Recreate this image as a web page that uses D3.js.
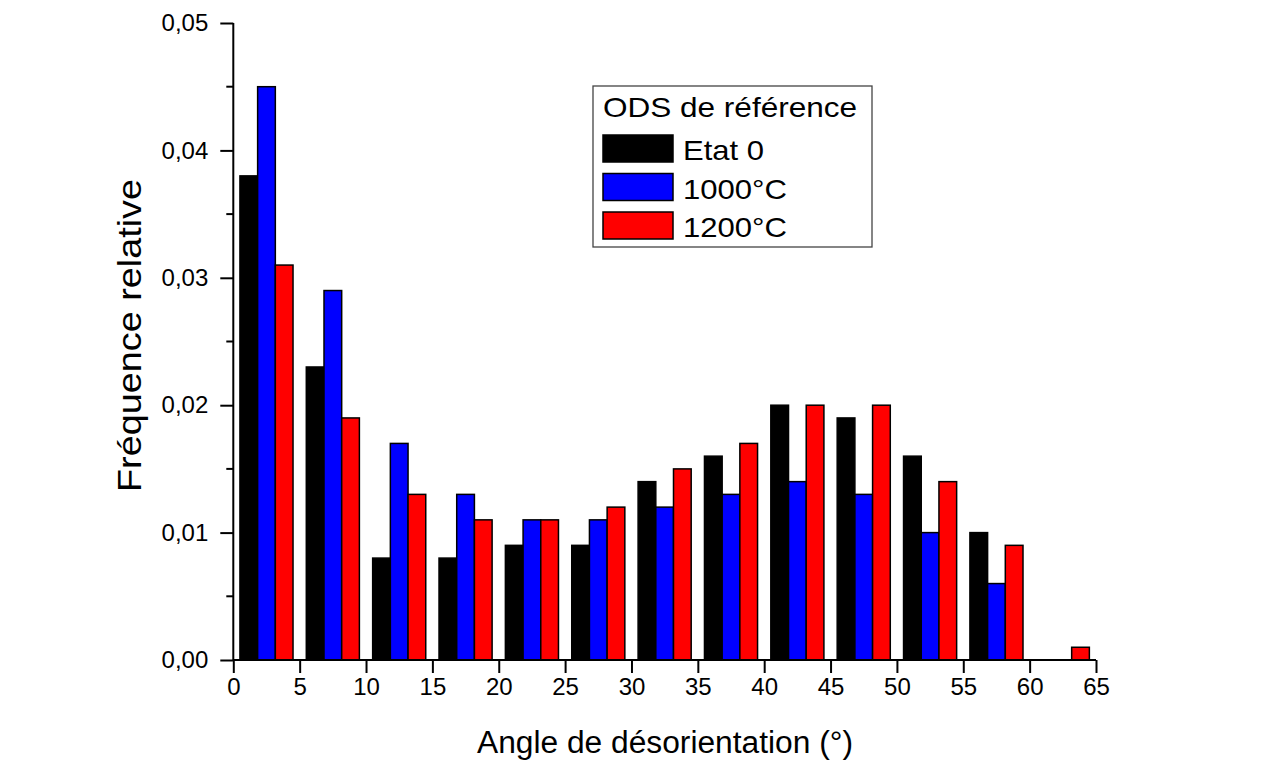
<!DOCTYPE html>
<html>
<head>
<meta charset="utf-8">
<script src="https://cdn.jsdelivr.net/npm/d3@7"></script>
<style>
  html, body { margin: 0; padding: 0; background: #fff; }
  svg { display: block; font-family: "Liberation Sans", Arial, sans-serif; }
</style>
</head>
<body>
<svg id="chart" width="1263" height="760"></svg>
<script>
// Misorientation-angle histogram, 5° bins
const binStarts = [0, 5, 10, 15, 20, 25, 30, 35, 40, 45, 50, 55, 60];
const etat0   = [0.038, 0.023, 0.008, 0.008, 0.009, 0.009, 0.014, 0.016, 0.020, 0.019, 0.016, 0.010, 0.000];
const t1000   = [0.045, 0.029, 0.017, 0.013, 0.011, 0.011, 0.012, 0.013, 0.014, 0.013, 0.010, 0.006, 0.000];
const t1200   = [0.031, 0.019, 0.013, 0.011, 0.011, 0.012, 0.015, 0.017, 0.020, 0.020, 0.014, 0.009, 0.001];
const seriesNames  = ["Etat 0", "1000°C", "1200°C"];
const seriesColors = ["#000000", "#0000ff", "#ff0000"];
const xTicks = [0, 5, 10, 15, 20, 25, 30, 35, 40, 45, 50, 55, 60, 65];
const yTicks = [0, 0.01, 0.02, 0.03, 0.04, 0.05];
const yMinorTicks = [0.005, 0.015, 0.025, 0.035, 0.045];
const legendTitle = "ODS de référence";
const xTitle = "Angle de désorientation (°)";
const yTitle = "Fréquence relative";

const binWidth = 5;
const series = [etat0, t1000, t1200];

const svg = d3.select("#chart");
const m = { left: 233.3, right: 1096, top: 23, bottom: 660 };

const x = d3.scaleLinear().domain([0, 65]).range([m.left, m.right]);
const y = d3.scaleLinear().domain([0, 0.05]).range([m.bottom, m.top]);

// group occupies 80% of each bin, split into three bars
const groupFrac = 0.8;
const barW = binWidth * groupFrac / series.length;
const comma = v => d3.format(".2f")(v).replace(".", ",");

// bars
const barsG = svg.append("g");
series.forEach((vals, si) => {
  barsG.selectAll(null)
    .data(binStarts.map((b, i) => ({ b, v: vals[i] })).filter(d => d.v > 0))
    .join("rect")
    .attr("x", d => x(d.b + binWidth * (1 - groupFrac) / 2 + si * barW))
    .attr("width", d => x(barW) - x(0))
    .attr("y", d => y(d.v))
    .attr("height", d => y(0) - y(d.v))
    .attr("fill", seriesColors[si])
    .attr("stroke", "#000")
    .attr("stroke-width", 1.5);
});

// x axis
const xAxis = d3.axisBottom(x).tickValues(xTicks).tickSize(13).tickPadding(5).tickFormat(d3.format("d"));
const gx = svg.append("g").attr("transform", `translate(0,${m.bottom})`).call(xAxis);
gx.select(".domain").attr("stroke-width", 2).attr("d", `M${m.left},0H${m.right}`);
gx.selectAll(".tick line").attr("stroke-width", 2);
gx.selectAll(".tick text").attr("font-size", 24).attr("fill", "#000").attr("font-family", "Liberation Sans, Arial, sans-serif");

// y axis
const yAxis = d3.axisLeft(y).tickValues(yTicks).tickSize(13).tickPadding(12).tickFormat(comma);
const gy = svg.append("g").attr("transform", `translate(${m.left},0)`).call(yAxis);
gy.select(".domain").attr("stroke-width", 2).attr("d", `M0,${m.top}V${m.bottom}`);
gy.selectAll(".tick line").attr("stroke-width", 2);
gy.selectAll(".tick text").attr("font-size", 24).attr("fill", "#000").attr("font-family", "Liberation Sans, Arial, sans-serif");
gy.selectAll(null).data(yMinorTicks).join("line")
  .attr("x1", -7).attr("x2", 0)
  .attr("y1", d => y(d)).attr("y2", d => y(d))
  .attr("stroke", "#000").attr("stroke-width", 2);

// axis titles
svg.append("text")
  .attr("x", 477).attr("y", 753)
  .attr("font-size", 31)
  .attr("textLength", 376).attr("lengthAdjust", "spacingAndGlyphs")
  .text(xTitle);
svg.append("text")
  .attr("transform", `translate(141,492) rotate(-90)`)
  .attr("font-size", 33)
  .attr("textLength", 313).attr("lengthAdjust", "spacingAndGlyphs")
  .text(yTitle);

// legend
const legendTextLen = [81, 104, 104];
const lg = svg.append("g");
lg.append("rect").attr("x", 593).attr("y", 86).attr("width", 279).attr("height", 161)
  .attr("fill", "#fff").attr("stroke", "#444").attr("stroke-width", 1.3);
lg.append("text").attr("x", 603).attr("y", 117).attr("font-size", 28)
  .attr("textLength", 254).attr("lengthAdjust", "spacingAndGlyphs")
  .text(legendTitle);
seriesNames.forEach((name, i) => {
  const ty = 135 + i * 38.5;
  lg.append("rect").attr("x", 603).attr("y", ty).attr("width", 70).attr("height", 27)
    .attr("fill", seriesColors[i]).attr("stroke", "#000").attr("stroke-width", 1.5);
  lg.append("text").attr("x", 683).attr("y", ty + 25).attr("font-size", 28)
    .attr("textLength", legendTextLen[i]).attr("lengthAdjust", "spacingAndGlyphs")
    .text(name);
});
</script>
</body>
</html>
